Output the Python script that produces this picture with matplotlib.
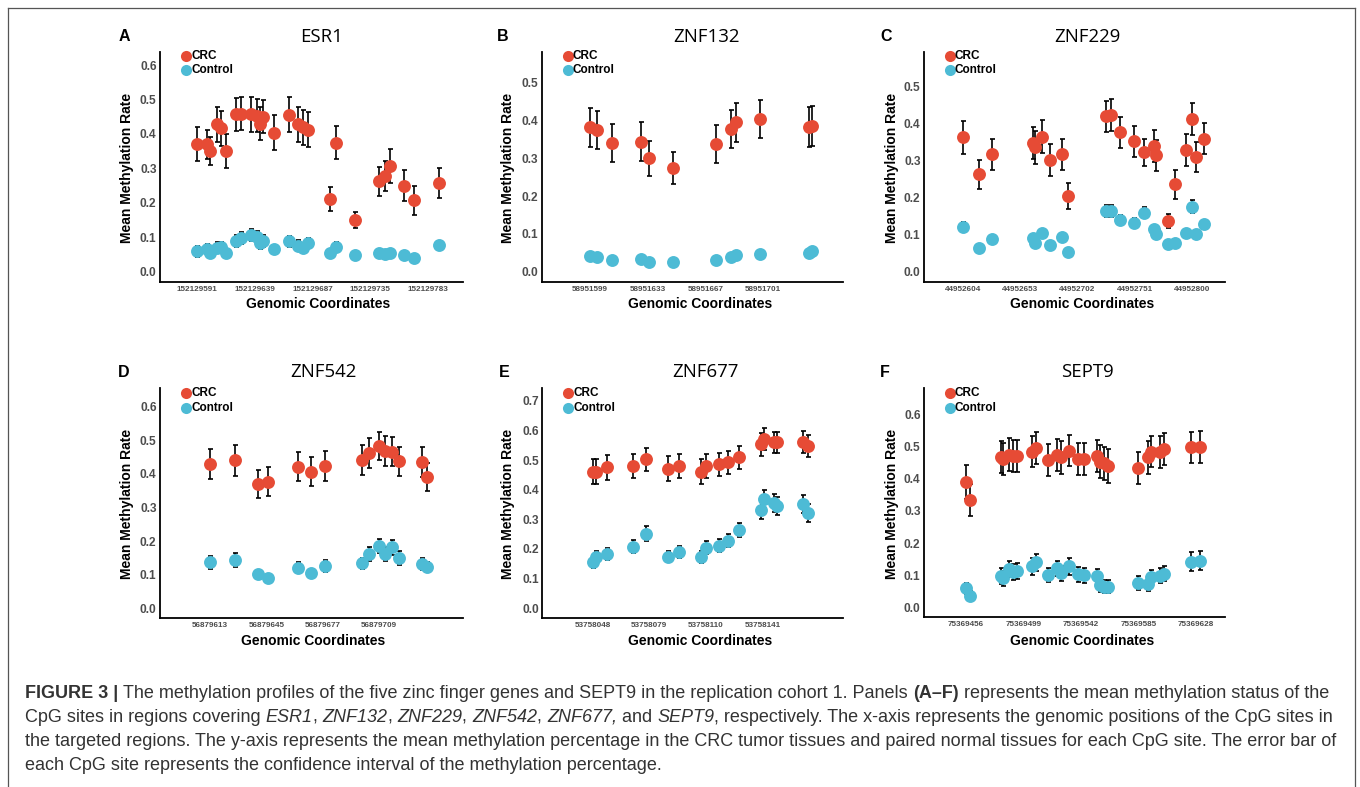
import matplotlib
matplotlib.use("Agg")
import matplotlib.pyplot as plt
from matplotlib.lines import Line2D

W, H = 1360, 787
RED = "#E64B35"
BLUE = "#4DBBD5"
TICK_GRAY = "#4D4D4D"
CAP_COLOR = "#333333"
CAP_FONT = "Liberation Sans"

# ---------------- data ----------------
esr1_pos = [152129591, 152129599, 152129602, 152129607, 152129611, 152129615, 152129623,
            152129627, 152129636, 152129641, 152129643, 152129646, 152129655, 152129667,
            152129675, 152129679, 152129683, 152129701, 152129706, 152129722, 152129742,
            152129747, 152129751, 152129763, 152129771, 152129792]
esr1_crc = [0.371, 0.370, 0.351, 0.428, 0.416, 0.350, 0.457, 0.459, 0.457, 0.453, 0.430, 0.450,
            0.404, 0.456, 0.428, 0.419, 0.413, 0.211, 0.375, 0.149, 0.263, 0.278, 0.307, 0.250,
            0.207, 0.258]
esr1_crc_err = [0.050, 0.042, 0.040, 0.050, 0.050, 0.050, 0.048, 0.048, 0.050, 0.048, 0.048,
                0.048, 0.050, 0.050, 0.050, 0.050, 0.050, 0.034, 0.048, 0.023, 0.042, 0.045,
                0.050, 0.045, 0.043, 0.043]
esr1_ctrl = [0.060, 0.066, 0.053, 0.070, 0.071, 0.053, 0.090, 0.097, 0.106, 0.100, 0.082, 0.090,
             0.065, 0.089, 0.076, 0.068, 0.084, 0.053, 0.073, 0.048, 0.053, 0.050, 0.053, 0.048,
             0.039, 0.077]
esr1_ctrl_err = [0.016, 0.015, 0.014, 0.017, 0.016, 0.014, 0.018, 0.017, 0.017, 0.017, 0.016,
                 0.017, 0.013, 0.016, 0.015, 0.014, 0.015, 0.010, 0.013, 0.008, 0.009, 0.008,
                 0.008, 0.008, 0.007, 0.010]
esr1_xticks = [152129591, 152129639, 152129687, 152129735, 152129783]

znf132_pos = [58951599, 58951603, 58951612, 58951629, 58951634, 58951648, 58951673, 58951682,
              58951685, 58951699, 58951728, 58951730]
znf132_crc = [0.382, 0.375, 0.341, 0.344, 0.300, 0.275, 0.337, 0.377, 0.395, 0.404, 0.382, 0.385]
znf132_crc_err = [0.052, 0.050, 0.050, 0.052, 0.047, 0.043, 0.050, 0.051, 0.052, 0.050, 0.053, 0.053]
znf132_ctrl = [0.042, 0.040, 0.031, 0.033, 0.025, 0.026, 0.031, 0.040, 0.044, 0.047, 0.050, 0.055]
znf132_ctrl_err = [0.010, 0.010, 0.008, 0.009, 0.006, 0.006, 0.009, 0.010, 0.010, 0.009, 0.009, 0.009]
znf132_xticks = [58951599, 58951633, 58951667, 58951701]

znf229_pos = [44952604, 44952618, 44952629, 44952664, 44952666, 44952672, 44952679, 44952689,
              44952694, 44952726, 44952731, 44952738, 44952750, 44952759, 44952767, 44952769,
              44952779, 44952785, 44952795, 44952800, 44952803, 44952810]
znf229_crc = [0.363, 0.263, 0.318, 0.349, 0.336, 0.365, 0.302, 0.317, 0.205, 0.421, 0.423,
              0.377, 0.353, 0.323, 0.340, 0.315, 0.137, 0.236, 0.329, 0.412, 0.311, 0.359]
znf229_crc_err = [0.044, 0.038, 0.042, 0.043, 0.045, 0.045, 0.043, 0.042, 0.035, 0.042, 0.043,
                  0.042, 0.042, 0.036, 0.043, 0.042, 0.019, 0.038, 0.043, 0.043, 0.041, 0.042]
znf229_ctrl = [0.122, 0.065, 0.088, 0.090, 0.077, 0.105, 0.072, 0.093, 0.054, 0.164, 0.164,
               0.140, 0.131, 0.160, 0.115, 0.101, 0.074, 0.079, 0.106, 0.176, 0.101, 0.128]
znf229_ctrl_err = [0.013, 0.006, 0.007, 0.008, 0.007, 0.009, 0.006, 0.008, 0.005, 0.016, 0.017,
                   0.013, 0.013, 0.015, 0.011, 0.010, 0.007, 0.007, 0.009, 0.017, 0.009, 0.012]
znf229_xticks = [44952604, 44952653, 44952702, 44952751, 44952800]

znf542_pos = [56879613, 56879627, 56879640, 56879646, 56879663, 56879670, 56879678, 56879699,
              56879703, 56879709, 56879712, 56879716, 56879720, 56879733, 56879736]
znf542_crc = [0.430, 0.440, 0.370, 0.377, 0.422, 0.407, 0.424, 0.441, 0.463, 0.483, 0.469,
              0.466, 0.438, 0.435, 0.392]
znf542_crc_err = [0.044, 0.045, 0.042, 0.044, 0.044, 0.043, 0.044, 0.045, 0.044, 0.042, 0.044,
                  0.043, 0.043, 0.044, 0.042]
znf542_ctrl = [0.137, 0.144, 0.101, 0.091, 0.121, 0.104, 0.126, 0.134, 0.161, 0.184, 0.161,
               0.182, 0.149, 0.132, 0.124]
znf542_ctrl_err = [0.020, 0.020, 0.011, 0.010, 0.016, 0.013, 0.018, 0.017, 0.020, 0.021, 0.021,
                   0.022, 0.020, 0.018, 0.015]
znf542_xticks = [56879613, 56879645, 56879677, 56879709]

znf677_pos = [53758048, 53758050, 53758056, 53758070, 53758077, 53758089, 53758095, 53758107,
              53758110, 53758117, 53758122, 53758128, 53758140, 53758142, 53758147, 53758149,
              53758163, 53758166]
znf677_crc = [0.461, 0.461, 0.475, 0.481, 0.502, 0.470, 0.481, 0.461, 0.481, 0.485, 0.492,
              0.509, 0.553, 0.571, 0.560, 0.560, 0.562, 0.547]
znf677_crc_err = [0.042, 0.042, 0.041, 0.040, 0.040, 0.042, 0.040, 0.042, 0.040, 0.040, 0.040,
                  0.039, 0.039, 0.038, 0.036, 0.036, 0.037, 0.038]
znf677_ctrl = [0.155, 0.174, 0.183, 0.208, 0.251, 0.174, 0.191, 0.172, 0.204, 0.211, 0.228,
               0.264, 0.331, 0.367, 0.356, 0.346, 0.352, 0.322]
znf677_ctrl_err = [0.020, 0.020, 0.021, 0.022, 0.025, 0.018, 0.020, 0.020, 0.022, 0.022, 0.022,
                   0.025, 0.030, 0.032, 0.030, 0.030, 0.030, 0.030]
znf677_xticks = [53758048, 53758079, 53758110, 53758141]

sept9_pos = [75369456, 75369459, 75369482, 75369484, 75369488, 75369491, 75369494, 75369505,
             75369508, 75369517, 75369524, 75369527, 75369533, 75369540, 75369544, 75369554,
             75369556, 75369559, 75369562, 75369585, 75369592, 75369594, 75369601, 75369604,
             75369624, 75369631]
sept9_crc = [0.391, 0.334, 0.468, 0.461, 0.474, 0.471, 0.471, 0.484, 0.496, 0.458, 0.474, 0.466,
             0.487, 0.460, 0.461, 0.470, 0.453, 0.448, 0.439, 0.432, 0.466, 0.484, 0.482, 0.491,
             0.497, 0.499]
sept9_crc_err = [0.053, 0.050, 0.050, 0.051, 0.051, 0.050, 0.050, 0.049, 0.049, 0.049, 0.050,
                 0.050, 0.049, 0.050, 0.050, 0.049, 0.052, 0.052, 0.052, 0.050, 0.050, 0.049,
                 0.050, 0.050, 0.049, 0.050]
sept9_ctrl = [0.059, 0.036, 0.097, 0.090, 0.118, 0.109, 0.113, 0.128, 0.140, 0.100, 0.121, 0.106,
              0.128, 0.103, 0.100, 0.097, 0.069, 0.064, 0.064, 0.075, 0.071, 0.093, 0.098, 0.104,
              0.142, 0.145]
sept9_ctrl_err = [0.018, 0.016, 0.024, 0.024, 0.025, 0.025, 0.025, 0.026, 0.027, 0.022, 0.024,
                  0.024, 0.026, 0.023, 0.023, 0.022, 0.021, 0.020, 0.020, 0.021, 0.020, 0.022,
                  0.023, 0.023, 0.029, 0.030]
sept9_xticks = [75369456, 75369499, 75369542, 75369585, 75369628]

panel_letters = ["A", "B", "C", "D", "E", "F"]
gene_names = ["ESR1", "ZNF132", "ZNF229", "ZNF542", "ZNF677", "SEPT9"]
y_tick_tops = [0.6, 0.5, 0.5, 0.6, 0.7, 0.6]

series = [
    (esr1_pos, esr1_crc, esr1_crc_err, esr1_ctrl, esr1_ctrl_err, esr1_xticks),
    (znf132_pos, znf132_crc, znf132_crc_err, znf132_ctrl, znf132_ctrl_err, znf132_xticks),
    (znf229_pos, znf229_crc, znf229_crc_err, znf229_ctrl, znf229_ctrl_err, znf229_xticks),
    (znf542_pos, znf542_crc, znf542_crc_err, znf542_ctrl, znf542_ctrl_err, znf542_xticks),
    (znf677_pos, znf677_crc, znf677_crc_err, znf677_ctrl, znf677_ctrl_err, znf677_xticks),
    (sept9_pos, sept9_crc, sept9_crc_err, sept9_ctrl, sept9_ctrl_err, sept9_xticks),
]

# ---------------- layout (pixels) ----------------
# axes boxes: left, top, right, bottom
boxes = [(160, 51.7, 463, 281.7), (541.7, 51.7, 843, 282.3), (924, 51.7, 1225, 281.7),
         (160, 388.3, 463, 618.3), (542.3, 388.3, 843, 618.3), (924, 388.3, 1225, 617.3)]
xlims = [(152129560, 152129812), (58951570.5, 58951748), (44952571, 44952828),
         (56879584.6, 56879756.5), (53758020.4, 53758185), (75369424.6, 75369649.7)]
ylims = [(-0.029, 0.639), (-0.028, 0.582), (-0.027, 0.595),
         (-0.030, 0.655), (-0.034, 0.742), (-0.031, 0.681)]
title_x = [321.7, 706, 1087.7, 323, 705, 1087.7]
letter_x = [124, 503, 886, 124, 504, 885]
ylabel_x = [126.7, 508, 891.7, 126.7, 508, 891.7]
xlabel_x = [318, 700, 1081.7, 313, 700, 1081.7]
row_title_base = [41.7, 377.4]
row_letter_base = [40.7, 376.7]
row_ylabel_c = [168.3, 504]
row_xlabel_base = [308.3, 645]


def fx(x):
    return x / W


def fy(y):
    return 1 - y / H


fig = plt.figure(figsize=(W / 100, H / 100), dpi=100)
fig.patch.set_facecolor("white")

for i in range(6):
    pos, crc, crc_err, ctrl, ctrl_err, xt = series[i]
    l, t, r, b = boxes[i]
    row = i // 3
    ax = fig.add_axes([fx(l), fy(b), (r - l) / W, (b - t) / H])
    ax.set_facecolor("none")

    ax.errorbar(pos, crc, yerr=crc_err, fmt="none", ecolor="black", elinewidth=1.2,
                capsize=1.8, capthick=1.2, zorder=2)
    ax.errorbar(pos, ctrl, yerr=ctrl_err, fmt="none", ecolor="black", elinewidth=1.2,
                capsize=1.8, capthick=1.2, zorder=2)
    ax.plot(pos, crc, "o", color=RED, ms=9.3, mec="none", zorder=3)
    ax.plot(pos, ctrl, "o", color=BLUE, ms=9.3, mec="none", zorder=3)

    ax.set_xlim(*xlims[i])
    ax.set_ylim(*ylims[i])
    ax.set_xticks(xt)
    ax.set_xticklabels([str(v) for v in xt], fontsize=5.9, fontweight="bold",
                       color=TICK_GRAY, family="Liberation Sans")
    yt = [k / 10 for k in range(int(round(y_tick_tops[i] * 10)) + 1)]
    ax.set_yticks(yt)
    ax.set_yticklabels(["%.1f" % v for v in yt], fontsize=8.6, fontweight="bold",
                       color=TICK_GRAY, family="Liberation Sans")
    ax.tick_params(axis="x", length=0, pad=3)
    ax.tick_params(axis="y", length=0, pad=2.5)
    for s in ["top", "right"]:
        ax.spines[s].set_visible(False)
    for s in ["left", "bottom"]:
        ax.spines[s].set_linewidth(1.3)
        ax.spines[s].set_color("black")

    # legend
    for k, (lab, col) in enumerate([("CRC", RED), ("Control", BLUE)]):
        my = t + (4.0 if row == 0 else 5.0) + 14.5 * k
        fig.add_artist(Line2D([fx(l + 26)], [fy(my)], marker="o", ms=8, color=col,
                              mec="none", transform=fig.transFigure))
        fig.text(fx(l + 31), fy(my), lab, fontsize=8.5, fontweight="bold",
                 family="Liberation Sans", va="center", ha="left")

    fig.text(fx(title_x[i]), fy(row_title_base[row]), gene_names[i], fontsize=13.4,
             family="Open Sans", ha="center", va="baseline")
    fig.text(fx(letter_x[i]), fy(row_letter_base[row]), panel_letters[i], fontsize=11.5,
             fontweight="bold", family="Liberation Sans", ha="center", va="baseline")
    fig.text(fx(ylabel_x[i]), fy(row_ylabel_c[row]), "Mean Methylation Rate", rotation=90,
             fontsize=10, fontweight="bold", family="Liberation Sans", ha="center", va="center")
    fig.text(fx(xlabel_x[i]), fy(row_xlabel_base[row]), "Genomic Coordinates", fontsize=10,
             fontweight="bold", family="Liberation Sans", ha="center", va="baseline")

# frame around figure + caption
for xs, ys in [((8, 8), (8, 800)), ((8, 1355), (8, 8)), ((1355, 1355), (8, 800))]:
    fig.add_artist(Line2D([fx(v) for v in xs], [fy(v) for v in ys], color="#555555", lw=0.9,
                          transform=fig.transFigure))

caption = [
    [("FIGURE 3 | ", "b"),
     ("The methylation profiles of the five zinc finger genes and SEPT9 in the replication "
      "cohort 1. Panels ", "n"), ("(A\u2013F)", "b"),
     (" represents the mean methylation status of the", "n")],
    [("CpG sites in regions covering ", "n"), ("ESR1", "i"), (", ", "n"), ("ZNF132", "i"),
     (", ", "n"), ("ZNF229", "i"), (", ", "n"), ("ZNF542", "i"), (", ", "n"), ("ZNF677,", "i"),
     (" and ", "n"), ("SEPT9", "i"),
     (", respectively. The x-axis represents the genomic positions of the CpG sites in", "n")],
    [("the targeted regions. The y-axis represents the mean methylation percentage in the CRC "
      "tumor tissues and paired normal tissues for each CpG site. The error bar of", "n")],
    [("each CpG site represents the confidence interval of the methylation percentage.", "n")],
]
cap_base = [697.7, 721.7, 745.7, 769.7]
cap_x0 = 25
cap_w1 = 1305

renderer = fig.canvas.get_renderer()


def style_kw(kind, size):
    return dict(fontsize=size, family=CAP_FONT, color=CAP_COLOR,
                fontweight="bold" if kind == "b" else "normal",
                fontstyle="italic" if kind == "i" else "normal")


def seg_width(txt, kind, size):
    tt = fig.text(0, 0, txt + "|", **style_kw(kind, size))
    w1 = tt.get_window_extent(renderer).width
    tt.set_text("|")
    w2 = tt.get_window_extent(renderer).width
    tt.remove()
    return w1 - w2


base_size = 10.0
w_line1 = sum(seg_width(s, k, base_size) for s, k in caption[0])
cap_size = base_size * cap_w1 / w_line1

for line, yb in zip(caption, cap_base):
    x = cap_x0
    for s, k in line:
        fig.text(fx(x), fy(yb), s, ha="left", va="baseline", **style_kw(k, cap_size))
        x += seg_width(s, k, cap_size)

fig.savefig("out.png", dpi=100)
